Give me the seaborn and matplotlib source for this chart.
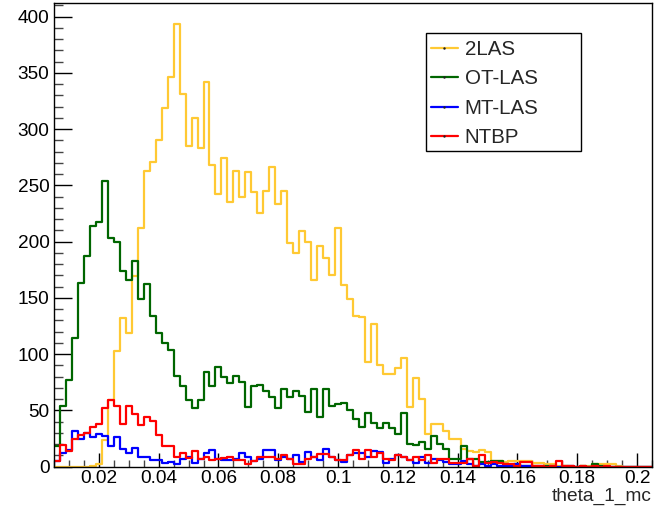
import numpy as np
import pandas as pd
import matplotlib
matplotlib.use("Agg")
import matplotlib.pyplot as plt
import seaborn as sns
from matplotlib.lines import Line2D
from matplotlib.patches import Rectangle
from matplotlib.ticker import MultipleLocator, FixedLocator, FixedFormatter

# ---------------- data ----------------
bin_lo = 0.005
bin_width = 0.002
n_bins = 100

series_names = ["2LAS", "OT-LAS", "MT-LAS", "NTBP"]
series_colors = ["#FFC933", "#006600", "#0000FF", "#FF0000"]

counts_2las = [
    0, 0, 0, 0, 0, 0, 1, 2, 24, 59,
    103, 132, 119, 169, 212, 263, 271, 290, 319, 346,
    393, 331, 285, 310, 283, 342, 268, 242, 274, 235,
    263, 240, 262, 244, 225, 245, 266, 233, 245, 199,
    190, 209, 200, 166, 196, 185, 170, 212, 161, 149,
    134, 133, 93, 127, 90, 82, 82, 88, 97, 53,
    79, 60, 29, 38, 38, 32, 25, 25, 16, 14,
    13, 15, 13, 5, 5, 4, 5, 5, 5, 5,
    3, 3, 2, 2, 1, 1, 1, 0, 1, 1,
    2, 2, 2, 2, 1, 0, 0, 0, 0, 0,
]
counts_otlas = [
    18, 54, 77, 114, 163, 187, 214, 217, 254, 203,
    200, 174, 166, 183, 149, 162, 134, 119, 110, 104,
    81, 72, 59, 52, 59, 84, 72, 89, 80, 74,
    81, 75, 53, 72, 73, 67, 62, 52, 69, 62,
    67, 63, 49, 69, 44, 69, 54, 56, 57, 50,
    42, 35, 48, 39, 34, 39, 34, 29, 48, 20,
    19, 22, 16, 27, 20, 16, 7, 7, 18, 7,
    7, 4, 4, 5, 5, 2, 1, 2, 1, 1,
    1, 0, 1, 0, 0, 1, 0, 0, 1, 0,
    2, 1, 0, 0, 0, 0, 0, 0, 0, 0,
]
counts_mtlas = [
    5, 12, 15, 32, 25, 30, 26, 29, 27, 18,
    26, 16, 12, 17, 9, 9, 6, 6, 3, 4,
    2, 7, 9, 3, 7, 12, 15, 7, 6, 6,
    7, 12, 9, 5, 7, 15, 15, 6, 9, 7,
    10, 4, 13, 9, 6, 16, 9, 6, 4, 10,
    12, 12, 9, 14, 13, 3, 7, 10, 9, 6,
    3, 9, 3, 7, 6, 4, 2, 2, 5, 2,
    1, 2, 1, 2, 1, 1, 1, 2, 1, 1,
    0, 1, 0, 1, 0, 0, 1, 0, 0, 0,
    0, 0, 0, 0, 0, 0, 0, 0, 0, 0,
]
counts_ntbp = [
    5, 19, 14, 25, 28, 30, 35, 38, 52, 59,
    54, 38, 54, 47, 37, 44, 41, 28, 18, 18,
    9, 12, 8, 14, 7, 9, 6, 7, 8, 9,
    6, 6, 2, 5, 9, 9, 9, 7, 10, 7,
    2, 2, 7, 9, 11, 11, 9, 6, 6, 10,
    15, 7, 15, 9, 12, 7, 6, 10, 9, 6,
    9, 6, 10, 3, 7, 7, 3, 3, 3, 7,
    1, 10, 3, 4, 3, 2, 2, 1, 4, 4,
    1, 1, 0, 1, 5, 1, 1, 0, 1, 0,
    1, 0, 1, 0, 0, 0, 0, 0, 0, 0,
]
series_counts = [counts_2las, counts_otlas, counts_mtlas, counts_ntbp]

x_tick_values = [0.02, 0.04, 0.06, 0.08, 0.1, 0.12, 0.14, 0.16, 0.18, 0.2]
x_tick_labels = ["0.02", "0.04", "0.06", "0.08", "0.1", "0.12", "0.14", "0.16", "0.18", "0.2"]
y_tick_values = [0, 50, 100, 150, 200, 250, 300, 350, 400]
x_label = "theta_1_mc"

# ---------------- figure ----------------
sns.set_style("ticks")
plt.rcParams["font.family"] = ["Liberation Sans", "DejaVu Sans"]

W, H = 658, 509
fig = plt.figure(figsize=(W / 100, H / 100), dpi=100)
ax_left, ax_right, ax_top, ax_bottom = 54, 652, 3, 466.7
ax = fig.add_axes([ax_left / W, (H - ax_bottom) / H,
                   (ax_right - ax_left) / W, (ax_bottom - ax_top) / H])

edges = [bin_lo + bin_width * i for i in range(n_bins + 1)]
centers = [0.5 * (edges[i] + edges[i + 1]) for i in range(n_bins)]

for name, counts, color in zip(series_names, series_counts, series_colors):
    df = pd.DataFrame({"theta": centers, "n": counts})
    sns.histplot(data=df, x="theta", weights="n", bins=edges,
                 element="step", fill=False, color=color,
                 linewidth=1.6, ax=ax)

ax.set_xlim(0.005, 0.205)
ax.set_ylim(0, 412)

ax.xaxis.set_major_locator(FixedLocator(x_tick_values))
ax.xaxis.set_major_formatter(FixedFormatter(x_tick_labels))
ax.xaxis.set_minor_locator(MultipleLocator(0.005))
ax.yaxis.set_major_locator(FixedLocator(y_tick_values))
ax.yaxis.set_minor_locator(MultipleLocator(10))

ax.tick_params(axis="y", which="major", direction="in", length=13, width=1,
               pad=3.2, labelsize=13.7, colors="black")
ax.tick_params(axis="y", which="minor", direction="in", length=6.5, width=1,
               colors="#444444")
ax.tick_params(axis="x", which="major", direction="in", length=10, width=1,
               pad=2.6, labelsize=13.7, colors="black")
ax.tick_params(axis="x", which="minor", direction="in", length=5, width=1,
               colors="#444444")

for s in ax.spines.values():
    s.set_visible(True)
    s.set_color("black")
    s.set_linewidth(1.0)

ax.set_ylabel("")
ax.set_xlabel(x_label, fontsize=13.8, loc="right", labelpad=0.5)

# legend
box_l, box_r, box_t, box_b = 425.7, 580.7, 33.3, 151
ax_w = ax_right - ax_left
ax_h = ax_bottom - ax_top
bx0 = (box_l - ax_left) / ax_w
by0 = (ax_bottom - box_b) / ax_h
bw = (box_r - box_l) / ax_w
bh = (box_b - box_t) / ax_h
ax.add_patch(Rectangle((bx0, by0), bw, bh, transform=ax.transAxes,
                       fill=True, facecolor="white", edgecolor="black",
                       linewidth=1.0, zorder=5))
handles = [Line2D([0], [0], color=c, lw=1.6, marker=".", markersize=1.5,
                  markerfacecolor="#222222", markeredgecolor="#222222")
           for c in series_colors]
leg = ax.legend(handles, series_names, loc="upper left",
                bbox_to_anchor=(bx0 + 0.002, (ax_bottom - box_t) / ax_h - 0.006),
                frameon=False, fontsize=14.8, handlelength=1.3,
                handletextpad=0.34, labelspacing=0.5, borderpad=0.2,
                borderaxespad=0, numpoints=1)
leg.set_zorder(6)

fig.savefig("out.png", dpi=100)
